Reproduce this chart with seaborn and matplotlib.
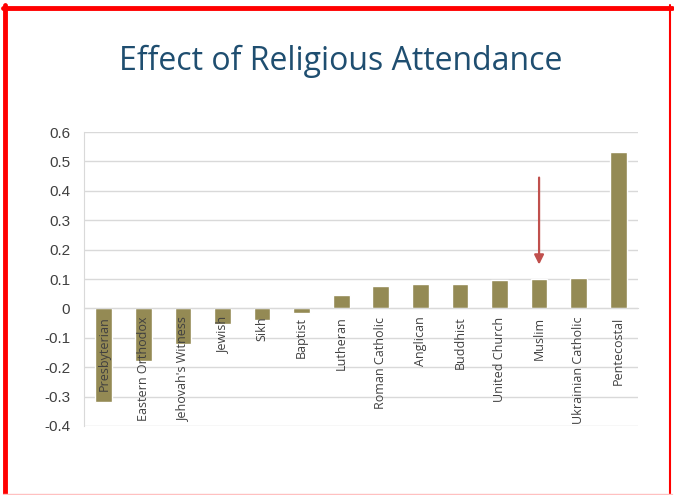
import numpy as np
import pandas as pd
import matplotlib
matplotlib.use("Agg")
import matplotlib.pyplot as plt
import seaborn as sns
from matplotlib.lines import Line2D

# --- Data ---
religions = ["Presbyterian", "Eastern Orthodox", "Jehovah's Witness", "Jewish",
             "Sikh", "Baptist", "Lutheran", "Roman Catholic", "Anglican",
             "Buddhist", "United Church", "Muslim", "Ukrainian Catholic",
             "Pentecostal"]
effects = [-0.318, -0.179, -0.122, -0.052, -0.041, -0.016, 0.044, 0.075,
           0.082, 0.084, 0.098, 0.101, 0.103, 0.532]
y_ticks = [-0.4, -0.3, -0.2, -0.1, 0, 0.1, 0.2, 0.3, 0.4, 0.5, 0.6]
y_tick_labels = ["-0.4", "-0.3", "-0.2", "-0.1", "0", "0.1", "0.2", "0.3",
                 "0.4", "0.5", "0.6"]
highlight = "Muslim"

df = pd.DataFrame({"religion": religions, "effect": effects})

sns.set_style("white")
plt.rcParams["font.family"] = ["Liberation Sans", "DejaVu Sans"]

fig = plt.figure(figsize=(6.74, 4.95), dpi=100)
ax = fig.add_axes([0.1246, 0.1394, 0.822, 0.5939])

sns.barplot(data=df, x="religion", y="effect", color="#948A54",
            saturation=1, width=0.42, ax=ax)

ax.set_ylim(-0.4, 0.6)
ax.set_xlim(-0.5, len(religions) - 0.5)
ax.set_yticks(y_ticks)
ax.set_yticklabels(y_tick_labels)
ax.yaxis.grid(True, color="#D9D9D9", linewidth=1)
ax.set_axisbelow(True)
ax.xaxis.set_zorder(3)  # category labels sit on top of the bars
ax.set_xlabel("")
ax.set_ylabel("")

# Excel-style category axis crossing at zero
for side in ["top", "right"]:
    ax.spines[side].set_visible(False)
ax.spines["left"].set_color("#D9D9D9")
ax.spines["bottom"].set_color("#D9D9D9")
ax.spines["bottom"].set_position(("data", 0))
ax.spines["bottom"].set_zorder(3)

ax.set_xticks(np.arange(len(religions)))
ax.set_xticklabels(religions, rotation=90, va="top", ha="center",
                   fontsize=9, color="#404040", family=["Open Sans"])
ax.set_xticks(np.arange(len(religions) + 1) - 0.5, minor=True)
ax.tick_params(axis="x", which="major", length=0, pad=6)
ax.tick_params(axis="x", which="minor", length=4, color="#D9D9D9",
               direction="out")
ax.tick_params(axis="y", length=0, labelsize=11, labelcolor="#404040", pad=10)

# Arrow pointing at the highlighted bar
hi = religions.index(highlight)
ax.annotate("", xy=(hi, effects[hi] + 0.048), xytext=(hi, 0.445),
            arrowprops=dict(arrowstyle="-|>", color="#C0504D", lw=1.6,
                            mutation_scale=14, shrinkA=0, shrinkB=0))

fig.text(0.506, 0.877, "Effect of Religious Attendance", ha="center",
         va="center", fontsize=23, color="#1F4E70", family=["Open Sans"])

# Red frame around the slide
fig.add_artist(Line2D([0.0075, 0.0075], [0, 0.99], transform=fig.transFigure,
                      color="#FF0000", lw=3.5))
fig.add_artist(Line2D([0.004, 0.997], [0.984, 0.984], transform=fig.transFigure,
                      color="#FF0000", lw=3.5))
fig.add_artist(Line2D([0.9935, 0.9935], [0, 0.99], transform=fig.transFigure,
                      color="#FF0000", lw=1.5))
fig.add_artist(Line2D([0.004, 0.997], [0.002, 0.002], transform=fig.transFigure,
                      color="#FFC0C0", lw=1.0))

fig.savefig("out.png", dpi=100)
